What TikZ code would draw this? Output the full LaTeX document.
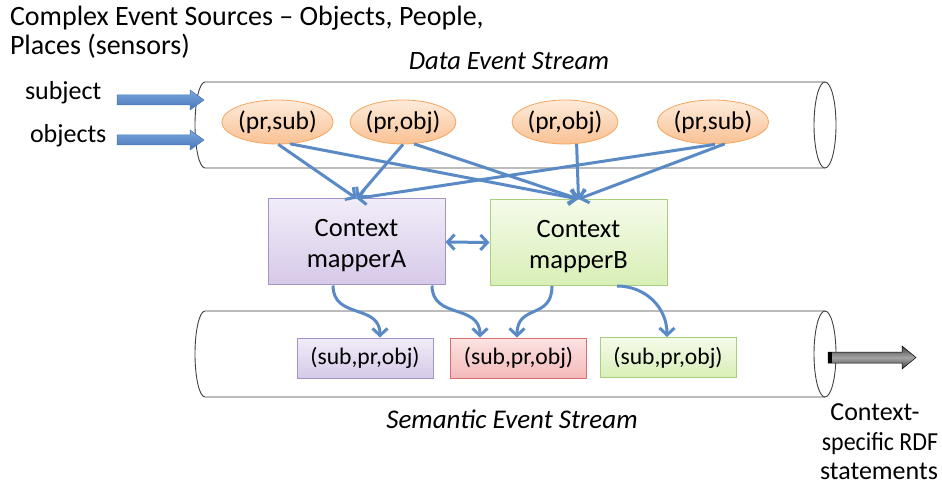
\documentclass[tikz,border=0pt]{standalone}
\usepackage{fontspec}
\setmainfont{Carlito}
\usetikzlibrary{arrows.meta,shapes.geometric}
\definecolor{bl}{HTML}{5A8AC6}
\definecolor{blL}{HTML}{7CA7DF}
\definecolor{blD}{HTML}{4677B8}
\definecolor{puT}{HTML}{F1ECF8}
\definecolor{puB}{HTML}{D6C9E9}
\definecolor{puE}{HTML}{A393C6}
\definecolor{grT}{HTML}{F5FBEA}
\definecolor{grB}{HTML}{D8EFB6}
\definecolor{grE}{HTML}{A8CF7E}
\definecolor{rdT}{HTML}{FCE3E3}
\definecolor{rdB}{HTML}{F4B9B9}
\definecolor{rdE}{HTML}{D9706F}
\definecolor{orT}{HTML}{FDEBDB}
\definecolor{orB}{HTML}{F9C193}
\definecolor{orE}{HTML}{F5A65E}
\tikzset{
  txt/.style={inner sep=0pt, outer sep=0pt, font=\fontsize{26}{30}\selectfont},
  ell/.style={ellipse, minimum width=88pt, minimum height=44pt, inner sep=0pt,
    top color=orT, bottom color=orB, draw=orE, line width=0.8pt,
    font=\fontsize{25.5}{28}\selectfont},
  mapbox/.style={rectangle, minimum width=177pt, minimum height=86pt, inner sep=0pt,
    line width=1pt},
  maptext/.style={inner sep=0pt, outer sep=0pt, align=center, font=\fontsize{26.5}{31}\selectfont},
  tripbox/.style={rectangle, minimum width=136pt, minimum height=40pt, inner sep=0pt,
    line width=1pt, font=\fontsize{23.6}{26}\selectfont},
  pu/.style={top color=puT, bottom color=puB, draw=puE},
  gr/.style={top color=grT, bottom color=grB, draw=grE},
  rd/.style={top color=rdT, bottom color=rdB, draw=rdE},
  conn/.style={draw=bl, line width=3pt, -{Straight Barb[length=7pt,width=15pt]}},
  cyl/.style={draw=black!75, line width=0.9pt, fill=white},
}
\begin{document}
\begin{tikzpicture}[x=1pt,y=-1pt]
\useasboundingbox (0,0) rectangle (942,486);
% title
\node[txt, anchor=base west, font=\fontsize{28}{30}\selectfont] (t1) at (10,26) {Complex Event Sources -- Objects, People,};
\node[txt, anchor=base west, font=\fontsize{28}{30}\selectfont] (t2) at (10,55) {Places (sensors)};
% cylinders
\draw[cyl] (825,82) -- (205,82) arc[start angle=270, end angle=90, x radius=10, y radius=43] -- (825,168);
\draw[cyl] (825,125) ellipse [x radius=11, y radius=43];
\draw[cyl] (825,311) -- (205,311) arc[start angle=270, end angle=90, x radius=10, y radius=43] -- (825,397);
\draw[cyl] (825,354) ellipse [x radius=11, y radius=43];
% stream labels
\node[txt, anchor=base, font=\fontsize{26.5}{30}\selectfont\itshape] (ds) at (509,70) {Data Event Stream};
\node[txt, anchor=base, font=\fontsize{27}{30}\selectfont\itshape] (ss) at (512,428) {Semantic Event Stream};
% input labels and arrows
\node[txt, anchor=base west] (subj) at (25,100) {subject};
\node[txt, anchor=base west] (objs) at (30,143) {objects};
\shade[top color=blL, bottom color=blD, draw=blD, line width=0.5pt]
  (117,95) -- (190,95) -- (190,90) -- (204,100) -- (190,110) -- (190,105) -- (117,105) -- cycle;
\shade[top color=blL, bottom color=blD, draw=blD, line width=0.5pt]
  (117,135) -- (190,135) -- (190,130) -- (204,140) -- (190,150) -- (190,145) -- (117,145) -- cycle;
% event ellipses
\node[ell] (ps1) at (277.5,122) {(pr,sub)};
\node[ell] (po1) at (403,122) {(pr,obj)};
\node[ell] (po2) at (565,122) {(pr,obj)};
\node[ell] (ps2) at (713,122) {(pr,sub)};
% mappers
\node[mapbox, pu] (mA) at (356.5,242) {};
\node[maptext] (mAt) at ([yshift=-4pt]mA.center) {Context\\mapperA};
\node[mapbox, gr] (mB) at (578.5,242.5) {};
\node[maptext] (mBt) at ([yshift=-4pt]mB.center) {Context\\mapperB};
% triples
\node[tripbox, pu] (tA) at (365,358) {(sub,pr,obj)};
\node[tripbox, rd] (tR) at (518.5,358) {(sub,pr,obj)};
\node[tripbox, gr] (tG) at (668,357.5) {(sub,pr,obj)};
% ellipse -> mapper connectors
\draw[conn] (ps1.-88) -- (mA.north);
\draw[conn] (ps1.-60) -- (mB.north);
\draw[conn] (po1.-90) -- (mA.north);
\draw[conn] (po1.-63) -- (mB.north);
\draw[conn] (po2.-62) -- (mB.north);
\draw[conn] (ps2.-85) -- (mA.north);
\draw[conn] (ps2.-62) -- (mB.north);
% mapper <-> mapper
\draw[conn, {Straight Barb[length=7pt,width=15pt]}-{Straight Barb[length=7pt,width=15pt]}] (mA.east) -- (mB.west);
% mapper -> triple
\draw[conn] ([xshift=-23.5pt]mA.south) .. controls +(0,34) and +(0,-34) .. ([xshift=15pt]tA.north);
\draw[conn] ([xshift=75.5pt]mA.south) .. controls +(0,34) and +(0,-34) .. ([xshift=-38.5pt]tR.north);
\draw[conn] ([xshift=-26.5pt]mB.south) .. controls +(0,34) and +(0,-34) .. ([xshift=-1.5pt]tR.north);
\draw[conn] ([xshift=38.5pt]mB.south) .. controls +(28,0) and +(0,-30) .. ([xshift=-1pt]tG.north);
% output arrow
\shade[top color=black!75, bottom color=black!75, middle color=black!35, draw=black, line width=0.5pt]
  (828,352) -- (902,352) -- (902,346) -- (916,357.5) -- (902,369) -- (902,363) -- (828,363) -- cycle;
\fill[black] (828,352) rectangle (832,363);
\node[txt, anchor=base] (out1) at (875,420) {Context-};
\node[txt, anchor=base] (out2) at (880,450) {\scalebox{0.92}[1]{specific RDF}};
\node[txt, anchor=base] (out3) at (879,479) {statements};
\end{tikzpicture}
\end{document}
